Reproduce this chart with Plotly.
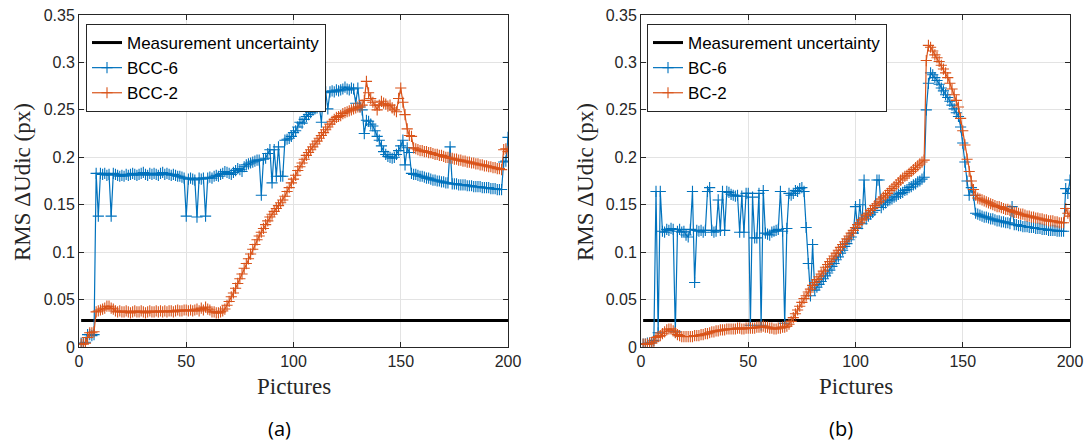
import plotly.graph_objects as go

pictures = list(range(1, 201))
uncertainty_level = 0.028

bcc6 = [
    0.004, 0.004, 0.005, 0.013, 0.013, 0.012, 0.013, 0.183, 0.138, 0.183,
    0.182, 0.183, 0.181, 0.182, 0.138, 0.183, 0.182, 0.181, 0.180, 0.181,
    0.180, 0.182, 0.181, 0.182, 0.183, 0.182, 0.181, 0.182, 0.183, 0.184,
    0.182, 0.181, 0.183, 0.182, 0.183, 0.182, 0.181, 0.183, 0.184, 0.182,
    0.183, 0.182, 0.181, 0.182, 0.181, 0.180, 0.180, 0.179, 0.178, 0.138,
    0.177, 0.178, 0.177, 0.176, 0.137, 0.178, 0.177, 0.178, 0.138, 0.178,
    0.179, 0.178, 0.180, 0.181, 0.180, 0.182, 0.183, 0.185, 0.184, 0.183,
    0.182, 0.184, 0.186, 0.188, 0.187, 0.185, 0.190, 0.192, 0.193, 0.194,
    0.195, 0.196, 0.197, 0.197, 0.160, 0.198, 0.199, 0.204, 0.208, 0.173,
    0.208, 0.180, 0.211, 0.180, 0.180, 0.218, 0.219, 0.220, 0.222, 0.226,
    0.228, 0.232, 0.237, 0.236, 0.240, 0.243, 0.245, 0.247, 0.250, 0.251,
    0.252, 0.254, 0.237, 0.268, 0.269, 0.251, 0.269, 0.270, 0.269, 0.271,
    0.270, 0.271, 0.272, 0.274, 0.272, 0.271, 0.273, 0.272, 0.257, 0.273,
    0.253, 0.250, 0.225, 0.239, 0.238, 0.235, 0.233, 0.228, 0.222, 0.218,
    0.212, 0.206, 0.203, 0.201, 0.200, 0.199, 0.200, 0.203, 0.207, 0.212,
    0.218, 0.192, 0.210, 0.205, 0.183, 0.182, 0.182, 0.181, 0.180, 0.180,
    0.179, 0.178, 0.178, 0.177, 0.176, 0.176, 0.175, 0.175, 0.174, 0.174,
    0.173, 0.173, 0.211, 0.172, 0.172, 0.172, 0.171, 0.171, 0.171, 0.171,
    0.170, 0.170, 0.170, 0.169, 0.169, 0.169, 0.169, 0.168, 0.168, 0.168,
    0.168, 0.167, 0.167, 0.167, 0.166, 0.166, 0.166, 0.195, 0.196, 0.221,
]

bcc2 = [
    0.003, 0.003, 0.004, 0.010, 0.015, 0.015, 0.016, 0.037, 0.038, 0.039,
    0.040, 0.041, 0.043, 0.043, 0.041, 0.040, 0.038, 0.037, 0.038, 0.037,
    0.037, 0.038, 0.037, 0.036, 0.037, 0.038, 0.037, 0.037, 0.038, 0.037,
    0.036, 0.037, 0.038, 0.037, 0.037, 0.038, 0.037, 0.038, 0.037, 0.038,
    0.037, 0.038, 0.038, 0.037, 0.038, 0.039, 0.038, 0.038, 0.039, 0.039,
    0.038, 0.039, 0.038, 0.039, 0.040, 0.038, 0.041, 0.039, 0.042, 0.040,
    0.039, 0.037, 0.037, 0.036, 0.036, 0.037, 0.038, 0.040, 0.044, 0.048,
    0.053, 0.057, 0.062, 0.067, 0.072, 0.077, 0.083, 0.088, 0.093, 0.098,
    0.103, 0.108, 0.113, 0.117, 0.121, 0.125, 0.129, 0.133, 0.137, 0.140,
    0.143, 0.146, 0.149, 0.152, 0.155, 0.159, 0.164, 0.168, 0.173, 0.177,
    0.181, 0.186, 0.190, 0.194, 0.198, 0.202, 0.205, 0.208, 0.211, 0.214,
    0.217, 0.220, 0.223, 0.226, 0.229, 0.232, 0.235, 0.238, 0.240, 0.242,
    0.243, 0.244, 0.246, 0.247, 0.248, 0.249, 0.250, 0.251, 0.252, 0.253,
    0.253, 0.255, 0.260, 0.280, 0.268, 0.262, 0.258, 0.255, 0.250, 0.255,
    0.259, 0.257, 0.256, 0.254, 0.255, 0.252, 0.250, 0.248, 0.262, 0.273,
    0.258, 0.245, 0.230, 0.223, 0.222, 0.210, 0.209, 0.208, 0.207, 0.207,
    0.206, 0.206, 0.205, 0.205, 0.204, 0.203, 0.203, 0.202, 0.202, 0.201,
    0.200, 0.200, 0.199, 0.199, 0.198, 0.198, 0.197, 0.197, 0.196, 0.196,
    0.195, 0.195, 0.194, 0.194, 0.193, 0.193, 0.192, 0.192, 0.191, 0.191,
    0.190, 0.190, 0.189, 0.189, 0.188, 0.188, 0.187, 0.208, 0.209, 0.206,
]

bc6 = [
    0.003, 0.003, 0.004, 0.004, 0.005, 0.007, 0.164, 0.015, 0.164, 0.122,
    0.121, 0.124, 0.123, 0.125, 0.124, 0.016, 0.122, 0.124, 0.121, 0.122,
    0.118, 0.116, 0.124, 0.164, 0.068, 0.123, 0.122, 0.123, 0.121, 0.123,
    0.164, 0.168, 0.123, 0.121, 0.122, 0.155, 0.123, 0.164, 0.123, 0.164,
    0.163, 0.161, 0.160, 0.159, 0.160, 0.121, 0.159, 0.121, 0.162, 0.162,
    0.023, 0.158, 0.115, 0.115, 0.162, 0.023, 0.165, 0.120, 0.119, 0.118,
    0.121, 0.122, 0.123, 0.124, 0.164, 0.122, 0.025, 0.125, 0.162, 0.160,
    0.162, 0.165, 0.164, 0.167, 0.168, 0.164, 0.126, 0.088, 0.054, 0.108,
    0.060, 0.063, 0.066, 0.069, 0.072, 0.075, 0.078, 0.081, 0.085, 0.088,
    0.092, 0.095, 0.099, 0.102, 0.106, 0.109, 0.113, 0.116, 0.120, 0.148,
    0.125, 0.150, 0.130, 0.176, 0.135, 0.138, 0.140, 0.142, 0.144, 0.176,
    0.176, 0.147, 0.150, 0.152, 0.154, 0.155, 0.156, 0.158, 0.159, 0.161,
    0.162, 0.163, 0.165, 0.166, 0.168, 0.169, 0.171, 0.172, 0.174, 0.175,
    0.177, 0.179, 0.250, 0.278, 0.289, 0.287, 0.284, 0.281, 0.277, 0.273,
    0.270, 0.266, 0.263, 0.259, 0.255, 0.251, 0.247, 0.243, 0.232, 0.215,
    0.195, 0.175, 0.160, 0.168, 0.160, 0.141, 0.140, 0.139, 0.138, 0.137,
    0.137, 0.136, 0.135, 0.135, 0.134, 0.133, 0.133, 0.132, 0.132, 0.131,
    0.131, 0.130, 0.148, 0.129, 0.129, 0.128, 0.128, 0.127, 0.127, 0.127,
    0.126, 0.126, 0.126, 0.125, 0.125, 0.125, 0.124, 0.124, 0.124, 0.123,
    0.123, 0.123, 0.123, 0.122, 0.122, 0.122, 0.122, 0.167, 0.162, 0.176,
]

bc2 = [
    0.003, 0.003, 0.003, 0.004, 0.004, 0.006, 0.010, 0.011, 0.012, 0.014,
    0.016, 0.018, 0.019, 0.019, 0.017, 0.015, 0.013, 0.012, 0.011, 0.011,
    0.011, 0.011, 0.011, 0.011, 0.012, 0.012, 0.012, 0.013, 0.013, 0.014,
    0.014, 0.015, 0.016, 0.016, 0.017, 0.017, 0.018, 0.018, 0.018, 0.019,
    0.019, 0.019, 0.019, 0.019, 0.020, 0.020, 0.019, 0.019, 0.020, 0.020,
    0.020, 0.020, 0.020, 0.021, 0.021, 0.021, 0.022, 0.021, 0.021, 0.020,
    0.020, 0.019, 0.019, 0.020, 0.020, 0.021, 0.021, 0.022, 0.024, 0.027,
    0.031, 0.035, 0.039, 0.043, 0.047, 0.051, 0.054, 0.058, 0.061, 0.065,
    0.068, 0.071, 0.074, 0.077, 0.080, 0.084, 0.087, 0.090, 0.093, 0.096,
    0.099, 0.102, 0.105, 0.108, 0.111, 0.114, 0.117, 0.120, 0.123, 0.126,
    0.129, 0.131, 0.134, 0.136, 0.139, 0.141, 0.144, 0.146, 0.149, 0.151,
    0.153, 0.156, 0.158, 0.160, 0.162, 0.165, 0.167, 0.169, 0.171, 0.173,
    0.176, 0.178, 0.180, 0.181, 0.183, 0.185, 0.187, 0.189, 0.191, 0.193,
    0.195, 0.197, 0.302, 0.318, 0.316, 0.312, 0.308, 0.305, 0.301, 0.297,
    0.293, 0.289, 0.284, 0.278, 0.272, 0.266, 0.260, 0.253, 0.241, 0.228,
    0.213, 0.198, 0.185, 0.175, 0.166, 0.160, 0.157, 0.156, 0.155, 0.154,
    0.153, 0.152, 0.151, 0.150, 0.149, 0.148, 0.148, 0.147, 0.146, 0.145,
    0.145, 0.144, 0.143, 0.142, 0.142, 0.141, 0.140, 0.140, 0.139, 0.138,
    0.138, 0.137, 0.137, 0.136, 0.136, 0.135, 0.135, 0.134, 0.134, 0.133,
    0.133, 0.133, 0.132, 0.132, 0.131, 0.131, 0.131, 0.146, 0.141, 0.138,
]

x_ticks = [0, 50, 100, 150, 200]
y_ticks = [0, 0.05, 0.1, 0.15, 0.2, 0.25, 0.3, 0.35]
y_tick_text = ["0", "0.05", "0.1", "0.15", "0.2", "0.25", "0.3", "0.35"]

BLUE = "#0072BD"
ORANGE = "#D95319"
TXT = "#262626"

fig = go.Figure()

panels = [
    ("x", "y", "legend", "BCC-6", "BCC-2", bcc6, bcc2),
    ("x2", "y2", "legend2", "BC-6", "BC-2", bc6, bc2),
]
for xa, ya, lg, n6, n2, s6, s2 in panels:
    fig.add_trace(go.Scatter(
        x=pictures, y=[uncertainty_level] * len(pictures), xaxis=xa, yaxis=ya,
        mode="lines", name="Measurement uncertainty", legend=lg,
        line=dict(color="black", width=3)))
    fig.add_trace(go.Scatter(
        x=pictures, y=s6, xaxis=xa, yaxis=ya, mode="lines+markers", name=n6,
        legend=lg, line=dict(color=BLUE, width=1.2),
        marker=dict(symbol="cross-thin", size=8, line=dict(color=BLUE, width=1.1))))
    fig.add_trace(go.Scatter(
        x=pictures, y=s2, xaxis=xa, yaxis=ya, mode="lines+markers", name=n2,
        legend=lg, line=dict(color=ORANGE, width=1.2),
        marker=dict(symbol="cross-thin", size=8, line=dict(color=ORANGE, width=1.1))))

W, H = 1092, 446
def px(v):
    return v / W

def py(v):
    return 1 - v / H

axis_common = dict(
    showline=True, linecolor=TXT, linewidth=1, mirror="ticks",
    ticks="inside", ticklen=5, tickcolor=TXT, automargin=False,
    showgrid=True, gridcolor="#e3e3e3", gridwidth=1, zeroline=False,
    tickfont=dict(family="Liberation Sans, Arial", size=16, color=TXT),
)

legend_font = dict(family="Liberation Sans, Arial", size=17, color="black")
fig.update_layout(
    width=W, height=H, margin=dict(l=0, r=0, t=0, b=0),
    paper_bgcolor="white", plot_bgcolor="white", showlegend=True,
    xaxis=dict(domain=[px(79), px(508)], range=[0, 200], tickvals=x_ticks,
               anchor="y", **axis_common),
    yaxis=dict(domain=[py(347), py(15)], range=[0, 0.35], tickvals=y_ticks,
               ticktext=y_tick_text, anchor="x", **axis_common),
    xaxis2=dict(domain=[px(641), px(1070)], range=[0, 200], tickvals=x_ticks,
                anchor="y2", **axis_common),
    yaxis2=dict(domain=[py(347), py(15)], range=[0, 0.35], tickvals=y_ticks,
                ticktext=y_tick_text, anchor="x2", **axis_common),
    legend=dict(x=px(86), y=py(24), xanchor="left", yanchor="top",
                bgcolor="white", bordercolor=TXT, borderwidth=1,
                font=legend_font, tracegroupgap=0, itemwidth=30),
    legend2=dict(x=px(647), y=py(24), xanchor="left", yanchor="top",
                 bgcolor="white", bordercolor=TXT, borderwidth=1,
                 font=legend_font, tracegroupgap=0, itemwidth=30),
)

serif = dict(family="Liberation Serif, DejaVu Serif", size=23, color=TXT)
annots = [
    dict(x=px(294), y=py(386), text="Pictures", font=serif),
    dict(x=px(856), y=py(386), text="Pictures", font=serif),
    dict(x=px(22), y=py(182), text="RMS ΔUdic (px)", font=serif, textangle=-90),
    dict(x=px(585), y=py(182), text="RMS ΔUdic (px)", font=serif, textangle=-90),
    dict(x=px(279), y=py(428), text="(a)",
         font=dict(family="Open Sans", size=20, color="black")),
    dict(x=px(841), y=py(428), text="(b)",
         font=dict(family="Open Sans", size=20, color="black")),
]
for a in annots:
    fig.add_annotation(xref="paper", yref="paper", showarrow=False,
                       xanchor="center", yanchor="middle", **a)

fig.write_html(
    "out.html",
    config={"displayModeBar": False},
    post_script="document.body.style.margin='0';document.body.style.overflow='hidden';",
)
